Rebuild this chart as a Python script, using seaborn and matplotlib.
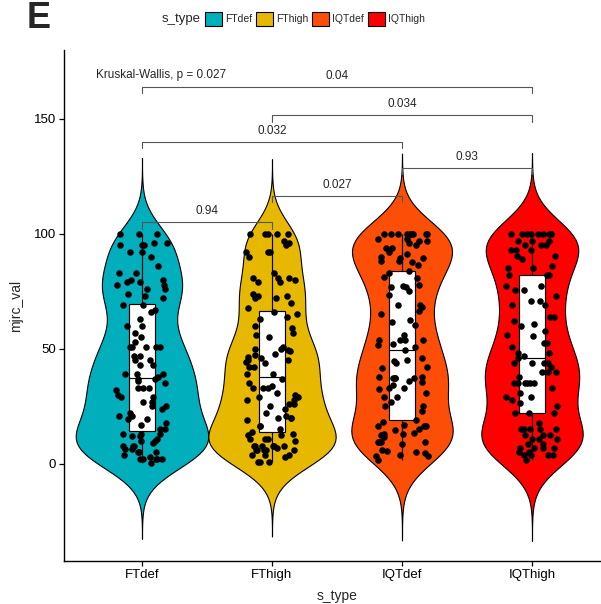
import numpy as np
import pandas as pd
import seaborn as sns
import matplotlib.pyplot as plt
from matplotlib.patches import Patch

groups = ["FTdef", "FThigh", "IQTdef", "IQThigh"]
colors = ["#00AFBB", "#E7B800", "#FC4E07", "#FF0000"]

ftdef_vals = [100, 100, 100, 96, 96, 95, 95, 95, 92, 92, 90, 86, 83, 83, 80, 80, 79, 79, 78, 78,
              76, 76, 74, 73, 72, 69, 69, 67, 66, 63, 60, 60, 57, 55, 53, 51, 51, 51,
              51, 51, 47, 47, 45, 45, 43, 43, 39, 39, 39, 37, 37, 36, 33, 33, 33, 32, 29, 29,
              27, 27, 25, 25, 21, 21, 19.5, 19.5, 18, 15, 15, 13, 13, 13, 12, 12, 10, 10,
              8, 8, 8, 6.5, 6.5, 5, 5, 5, 2, 2, 2, 2, 2, 0.5,
              38, 35, 30, 24, 22, 17, 11, 9, 4, 3]
fthigh_vals = [100, 100, 100, 100, 100, 97, 96, 95, 92, 92, 92, 90, 83,
               81, 81, 80, 81, 79, 79, 74, 73, 72, 72, 73, 70, 68, 66, 64, 65, 63,
               60, 59, 57, 56, 55, 51, 49, 50,
               50, 49.6, 48, 47.4, 46.7, 45.9, 45.2, 45.2, 44.5, 43.8, 42.3, 42.3,
               39, 39, 37, 33, 33, 33, 31, 30, 29, 29, 28, 26, 26, 25, 21, 20, 20, 20,
               19, 16.5, 16.5, 14, 13, 12.6, 12.6, 11, 11, 11, 8, 8, 8, 8, 8, 8,
               6, 6, 6, 6, 6, 4, 4, 4, 1, 1, 1,
               34, 28, 22, 15, 7, 3, 35, 24, 10]
iqtdef_vals = [100, 100, 100, 100, 100, 100, 100, 100, 100,
               98, 98, 97, 97, 96, 95.2, 94, 94, 92, 91.2, 90, 89.7, 89.4, 88.3, 88.3,
               87.7, 86.5, 84, 82.9, 81, 81.4, 78, 77, 77, 77.5, 75, 73.5,
               69, 69, 68.4, 66.5, 65, 62.6, 61.6, 60.4, 56, 54, 54, 54, 54, 52, 51.7,
               51, 49.6, 46, 45.2, 44.8, 42.3, 41.9, 38, 37.3, 37.3, 37.5, 38, 37.3,
               35.5, 36.1, 34.3, 32.6, 32.9, 30.7, 29.3, 28.9, 27.1, 25.4, 25.4,
               19.1, 18.4, 16.7, 17, 16.5, 16.7, 14.8, 13.3, 12.9, 12.6, 12.6, 11.9, 12.9,
               9.4, 9.4, 9.7, 9.4, 8.6, 6.1, 5.7, 5.4, 4.6, 3.9, 3.6, 3.6, 1.7,
               44, 33, 23, 15]
iqthigh_vals = [100, 100, 100, 100, 100, 100, 100, 100, 100,
                97, 97, 97, 95, 95, 95, 93, 93, 93, 90.5, 90.5, 89, 86, 85, 85,
                82, 82, 82, 77.5, 77.5, 75.5, 75.5, 73, 71, 71, 69, 69, 64, 64, 62, 61,
                60, 58, 56, 55.6, 52.6, 52.6, 51, 48.3, 48.3, 44, 44, 44, 44,
                40, 40, 40, 38, 35, 35, 35, 35, 35, 35, 31, 29, 29, 26.5, 22, 22, 22,
                18, 15, 15, 15, 15, 15, 12.6, 12.6, 12.6, 11, 11, 11, 8.7, 8.7,
                7, 7, 7, 7, 5.2, 5.2, 3.9, 3.9, 3.9, 3.9, 1.7,
                25, 28, 33, 42, 46, 47]

bracket_pairs = [(0, 1), (1, 2), (2, 3), (0, 2), (1, 3), (0, 3)]
bracket_y = [105, 116.5, 128.7, 140, 151.7, 164]
bracket_labels = ["0.94", "0.027", "0.93", "0.032", "0.034", "0.04"]
kw_label = "Kruskal-Wallis, p = 0.027"
y_ticks = [0, 50, 100, 150]
violin_widths = [1.02, 0.98, 0.78, 0.78]

all_vals = [ftdef_vals, fthigh_vals, iqtdef_vals, iqthigh_vals]
df = pd.DataFrame({
    "s_type": np.concatenate([[g] * len(v) for g, v in zip(groups, all_vals)]),
    "mjrc_val": np.concatenate(all_vals).astype(float),
})

sns.set_theme(style="ticks")
plt.rcParams['font.family'] = ['Liberation Sans', 'DejaVu Sans']

fig = plt.figure(figsize=(6.01, 6.04), dpi=100)
ax = fig.add_axes([64 / 601, 43 / 604, (610 - 64) / 601, 511 / 604])

for g, c, w in zip(groups, colors, violin_widths):
    sns.violinplot(data=df[df["s_type"] == g], x="s_type", y="mjrc_val", order=groups,
                   color=c, cut=3.6, bw_adjust=0.75, density_norm="width", width=w,
                   inner=None, linewidth=0.8, linecolor="black", saturation=1, ax=ax)
sns.boxplot(data=df, x="s_type", y="mjrc_val", order=groups, width=0.2, color="white",
            linecolor="black", linewidth=0.85, showfliers=False, showcaps=False,
            saturation=1, ax=ax, zorder=3)
np.random.seed(7)
sns.stripplot(data=df, x="s_type", y="mjrc_val", order=groups, color="black",
              jitter=0.2, size=4.7, ax=ax, zorder=4)

tip = 2.8
for (a, b), yv, lab in zip(bracket_pairs, bracket_y, bracket_labels):
    ax.plot([a, a, b, b], [yv - tip, yv, yv, yv - tip], color="#555555", lw=0.8, zorder=5)
    ax.text((a + b) / 2, yv + 4.8, lab, ha="center", va="center", fontsize=8.5, zorder=6)
ax.text(-0.35, 169, kw_label, ha="left", va="center", fontsize=8.5)

ax.set_xlim(-0.6, 3.6)
ax.set_ylim(-42.2, 180)
ax.set_yticks(y_ticks)
sns.despine(ax=ax)
for s in ["left", "bottom"]:
    ax.spines[s].set_color("black")
    ax.spines[s].set_linewidth(1.0)
ax.tick_params(axis="both", length=3.5, width=0.9, color="black", labelsize=9.5,
               labelcolor="black", pad=2)
ax.set_xlabel("s_type", fontsize=10, labelpad=6)
ax.set_ylabel("mjrc_val", fontsize=10, labelpad=8)

fig.text(27 / 601, 1 - 18 / 604, "E", fontsize=26, fontweight="bold", va="center", ha="left")
fig.text(162 / 601, 1 - 19 / 604, "s_type", fontsize=9.5, va="center", ha="left")
handles = [Patch(facecolor=c, edgecolor="black", linewidth=0.8) for c in colors]
fig.legend(handles, groups, loc="center left", bbox_to_anchor=(205 / 601, 1 - 19 / 604),
           ncol=4, frameon=False, handlelength=1.6, handleheight=1.6, handletextpad=0.3,
           columnspacing=0.4, fontsize=7.5, borderpad=0, borderaxespad=0)

fig.savefig("out.png", dpi=100)
